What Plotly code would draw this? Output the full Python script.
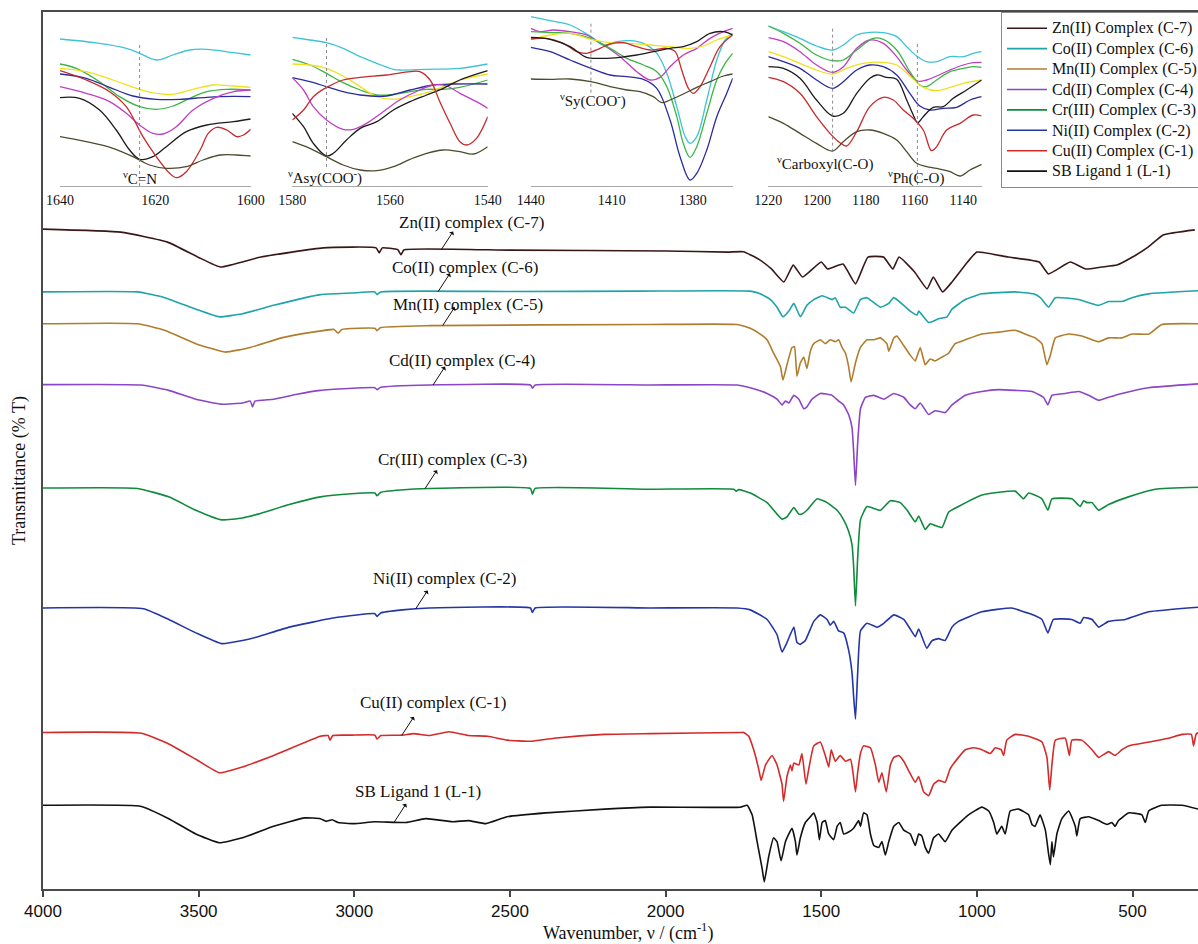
import numpy as np
import plotly.graph_objects as go

# ---------------- main spectra (wavenumber, transmittance a.u., offset-stacked) -------------
zn_wn = [4000, 3750, 3600, 3500, 3430, 3300, 3100, 2930, 2920, 2910, 2860, 2850, 2840, 2500, 2000, 1800, 1750, 1700, 1660, 1620,
         1590, 1560, 1500, 1480, 1430, 1390, 1350, 1300, 1270, 1250, 1200, 1160, 1140, 1110, 1080, 1030, 1000, 900, 800, 770,
         700, 650, 600, 550, 500, 450, 400, 300]
zn_t = [175.9, 175.1, 172.5, 168.5, 166.0, 168.6, 171.0, 171.0, 169.7, 171.0, 170.5, 169.2, 170.5, 170.4, 170.2, 169.9, 170.0, 168.0, 165.5, 162.1,
        166.5, 163.4, 167.3, 165.5, 166.8, 161.6, 168.6, 168.6, 165.5, 168.6, 164.7, 160.3, 163.4, 159.5, 162.1, 167.3, 169.9, 168.6, 167.3, 164.2,
        167.3, 165.5, 166.0, 166.5, 168.6, 171.2, 174.4, 175.7]

co_wn = [4000, 3696, 3609, 3509, 3434, 3359, 3259, 3109, 3009, 2934, 2927, 2915, 2500, 2081, 1728, 1696, 1663, 1642, 1623, 1604,
         1588, 1567, 1546, 1524, 1497, 1465, 1455, 1439, 1422, 1396, 1374, 1353, 1310, 1283, 1267, 1235, 1214, 1192, 1187, 1155,
         1123, 1096, 1080, 1037, 984, 877, 818, 796, 770, 748, 673, 609, 577, 534, 502, 448, 289]
co_t = [159.5, 159.5, 158.0, 155.0, 153.0, 153.8, 156.0, 158.8, 159.2, 159.5, 158.8, 159.5, 159.6, 159.7, 159.7, 159.0, 157.5, 155.5, 153.0, 154.5,
        156.5, 153.0, 156.0, 157.5, 158.5, 157.5, 158.0, 155.5, 155.5, 154.0, 157.5, 158.0, 155.5, 156.5, 158.0, 156.0, 154.5, 153.5, 154.5, 151.5,
        152.5, 153.0, 155.0, 157.5, 159.0, 159.5, 159.0, 158.0, 155.5, 158.0, 157.5, 156.0, 157.0, 157.0, 158.0, 159.0, 159.8]

mn_wn = [4000, 3696, 3609, 3509, 3415, 3334, 3234, 3134, 3065, 3052, 3040, 2934, 2927, 2915, 2759, 2049, 1770, 1728, 1696, 1674,
         1653, 1631, 1623, 1610, 1594, 1586, 1578, 1567, 1556, 1546, 1535, 1524, 1503, 1487, 1471, 1455, 1444, 1433, 1422, 1412,
         1404, 1390, 1374, 1353, 1331, 1310, 1289, 1283, 1267, 1257, 1235, 1214, 1198, 1182, 1166, 1150, 1134, 1112, 1091, 1070,
         1037, 984, 930, 877, 845, 813, 791, 775, 764, 748, 705, 663, 630, 609, 577, 534, 502, 448, 406, 289]
mn_t = [151.2, 151.2, 149.5, 146.0, 143.8, 145.0, 147.5, 149.0, 149.7, 148.7, 149.7, 150.0, 149.4, 150.2, 150.7, 151.0, 151.0, 150.0, 148.5, 147.0,
        143.5, 140.0, 136.5, 140.5, 145.0, 145.2, 137.5, 141.0, 142.5, 139.5, 144.0, 146.0, 147.0, 146.0, 147.0, 146.5, 147.0, 145.0, 143.5, 140.0,
        136.0, 141.0, 145.0, 147.0, 147.0, 147.5, 146.0, 144.0, 147.5, 148.0, 145.5, 143.0, 141.5, 145.0, 140.5, 142.0, 141.5, 142.5, 143.5, 146.0,
        147.0, 148.5, 149.0, 149.5, 148.5, 147.5, 146.0, 140.5, 143.0, 147.5, 148.5, 148.0, 147.0, 146.5, 147.5, 147.5, 148.5, 148.5, 151.0, 151.2]

cd_wn = [4000, 3684, 3596, 3509, 3427, 3359, 3334, 3327, 3319, 3259, 3184, 3109, 2934, 2927, 2915, 2759, 2434, 2428, 2419, 2049,
         1770, 1728, 1674, 1642, 1626, 1615, 1604, 1588, 1572, 1556, 1546, 1530, 1503, 1465, 1444, 1428, 1412, 1401, 1396, 1390,
         1383, 1374, 1358, 1331, 1299, 1267, 1235, 1214, 1198, 1182, 1155, 1134, 1102, 1080, 1037, 984, 930, 877, 823, 786,
         772, 759, 716, 673, 641, 609, 577, 534, 448, 289]
cd_t = [135.3, 135.2, 133.8, 131.5, 130.2, 130.5, 131.0, 129.5, 131.0, 131.5, 132.8, 133.8, 134.5, 134.0, 134.6, 135.2, 135.2, 134.4, 135.2, 135.2,
        135.2, 134.5, 133.0, 131.5, 130.0, 131.0, 130.5, 132.5, 131.5, 129.0, 129.5, 131.5, 133.0, 132.5, 131.0, 130.0, 127.5, 124.0, 118.0, 109.0,
        120.0, 129.0, 132.0, 132.5, 131.5, 133.0, 132.0, 130.0, 129.0, 130.5, 127.5, 128.5, 128.0, 130.0, 132.5, 133.5, 134.0, 133.8, 133.5, 132.0,
        130.0, 132.5, 133.0, 133.5, 132.5, 131.2, 132.0, 133.0, 134.5, 135.5]

cr_wn = [4000, 3696, 3596, 3509, 3427, 3359, 3309, 3209, 3109, 3009, 2934, 2927, 2915, 2852, 2759, 2434, 2428, 2419, 2049, 1781,
         1773, 1765, 1728, 1674, 1642, 1626, 1610, 1588, 1572, 1562, 1546, 1513, 1481, 1449, 1428, 1412, 1401, 1396, 1390, 1383,
         1374, 1353, 1310, 1278, 1246, 1224, 1198, 1187, 1166, 1150, 1134, 1112, 1091, 1059, 984, 877, 850, 834, 791, 772,
         759, 695, 668, 657, 647, 630, 609, 577, 513, 427, 289]
cr_t = [108.3, 108.2, 106.0, 102.5, 100.0, 100.5, 101.5, 104.0, 106.0, 106.8, 107.0, 106.3, 107.2, 107.8, 108.2, 108.2, 106.7, 108.2, 108.0, 108.0,
        107.5, 107.9, 107.0, 104.5, 101.5, 100.2, 100.8, 103.2, 101.5, 101.5, 102.5, 105.5, 104.5, 102.5, 100.0, 97.0, 93.5, 88.0, 77.5, 90.0,
        100.0, 103.5, 102.5, 105.0, 104.5, 102.5, 99.5, 101.0, 97.5, 99.0, 98.5, 98.0, 102.0, 103.5, 106.5, 107.5, 105.5, 107.0, 105.5, 102.5,
        105.5, 105.5, 103.5, 105.0, 104.5, 104.5, 102.5, 104.0, 106.0, 108.0, 108.5]

ni_wn = [4000, 3677, 3596, 3509, 3427, 3359, 3309, 3209, 3059, 2934, 2927, 2915, 2846, 2759, 2434, 2428, 2419, 2049, 1770, 1728,
         1674, 1642, 1626, 1610, 1588, 1578, 1567, 1551, 1524, 1503, 1481, 1471, 1460, 1444, 1428, 1412, 1401, 1396, 1390, 1383,
         1374, 1353, 1321, 1299, 1267, 1235, 1214, 1198, 1187, 1161, 1144, 1123, 1102, 1080, 1059, 984, 888, 850, 829, 791,
         772, 754, 695, 668, 657, 630, 609, 577, 523, 448, 289]
ni_t = [77.0, 76.8, 74.0, 70.5, 67.7, 68.5, 69.5, 72.0, 74.5, 75.5, 74.8, 75.7, 76.5, 77.0, 77.0, 75.8, 77.0, 77.0, 77.0, 76.5,
        74.0, 70.0, 65.5, 68.0, 72.0, 68.0, 67.5, 68.5, 73.5, 75.2, 74.0, 72.5, 73.5, 71.0, 70.5, 66.0, 60.0, 54.0, 48.0, 60.0,
        71.0, 73.0, 72.0, 73.0, 75.2, 74.0, 71.5, 69.5, 71.5, 66.5, 68.5, 69.0, 68.5, 72.0, 73.5, 76.0, 77.0, 76.0, 75.5, 74.0,
        70.5, 74.0, 74.0, 73.0, 74.5, 74.0, 72.0, 73.5, 74.0, 76.0, 77.2]

cu_wn = [4000, 3684, 3596, 3509, 3434, 3359, 3259, 3109, 3084, 3078, 3069, 3009, 2934, 2927, 2915, 2846, 2809, 2759, 2696, 2634,
         2571, 2509, 2434, 2359, 2196, 2049, 1760, 1749, 1733, 1717, 1701, 1693, 1679, 1658, 1642, 1626, 1621, 1610, 1599, 1594,
         1588, 1572, 1562, 1549, 1540, 1524, 1503, 1487, 1476, 1468, 1455, 1439, 1422, 1406, 1398, 1390, 1383, 1374, 1364, 1342,
         1326, 1315, 1305, 1291, 1278, 1267, 1251, 1235, 1219, 1198, 1187, 1171, 1155, 1139, 1123, 1102, 1086, 1059, 1037, 1011,
         984, 957, 941, 922, 914, 904, 877, 834, 791, 775, 766, 759, 748, 716, 703, 695, 663, 630, 609, 577,
         556, 534, 513, 448, 384, 341, 311, 304, 296, 289]
cu_t = [44.5, 44.3, 41.5, 37.5, 34.0, 35.5, 38.5, 43.5, 43.7, 42.5, 43.7, 43.8, 43.8, 42.8, 43.7, 43.8, 44.2, 43.7, 44.7, 43.7,
        43.5, 42.5, 42.2, 43.0, 44.0, 44.2, 44.5, 44.5, 43.5, 40.0, 35.0, 32.0, 36.0, 38.5, 36.0, 31.0, 26.5, 33.0, 36.0, 34.5,
        36.5, 36.0, 39.0, 31.0, 35.0, 41.0, 42.0, 38.5, 35.5, 40.0, 37.0, 38.5, 37.0, 37.5, 34.0, 29.0, 34.0, 39.0, 41.0, 40.5,
        36.0, 31.5, 34.0, 29.0, 36.0, 38.0, 38.5, 37.0, 34.5, 31.5, 33.0, 29.0, 28.0, 31.0, 32.0, 31.5, 35.0, 38.0, 40.0, 40.5,
        40.0, 39.0, 40.5, 40.0, 38.5, 42.5, 44.0, 43.5, 42.0, 38.0, 29.5, 36.0, 42.5, 43.0, 38.5, 42.5, 42.5, 40.0, 38.0, 39.5,
        38.5, 40.0, 41.0, 42.0, 43.0, 44.0, 44.0, 41.0, 44.0, 44.5]

sb_wn = [4000, 3684, 3596, 3509, 3434, 3359, 3259, 3159, 3109, 3090, 3071, 3052, 3002, 2934, 2834, 2771, 2684, 2634, 2577, 2509,
         2384, 2196, 2049, 1760, 1738, 1722, 1706, 1690, 1683, 1669, 1653, 1642, 1629, 1615, 1594, 1583, 1578, 1567, 1551, 1535,
         1524, 1513, 1506, 1497, 1487, 1476, 1460, 1449, 1439, 1428, 1412, 1396, 1380, 1374, 1364, 1353, 1342, 1331, 1315, 1305,
         1294, 1283, 1267, 1251, 1235, 1214, 1198, 1187, 1177, 1166, 1155, 1139, 1123, 1102, 1080, 1048, 1027, 984, 962, 946,
         936, 920, 909, 893, 866, 834, 823, 813, 797, 780, 770, 764, 759, 754, 743, 727, 705, 684, 679, 668,
         641, 609, 582, 566, 556, 545, 513, 470, 459, 448, 406, 341, 289]
sb_t = [25.5, 25.2, 22.0, 18.0, 15.7, 17.0, 20.0, 22.2, 22.0, 21.3, 21.7, 21.0, 20.7, 21.2, 21.0, 22.0, 21.2, 21.5, 20.7, 22.5,
        23.5, 24.5, 25.0, 25.0, 25.5, 23.0, 16.0, 9.0, 5.5, 12.0, 17.0, 16.0, 11.0, 16.0, 19.5, 16.0, 12.5, 17.0, 21.0, 22.5,
        23.5, 21.0, 16.5, 21.0, 21.5, 18.0, 16.5, 20.0, 21.0, 18.0, 18.5, 19.5, 21.5, 20.0, 23.5, 23.0, 18.0, 15.0, 14.5, 16.0,
        12.5, 16.0, 20.0, 21.0, 19.0, 18.0, 15.0, 18.0, 17.5, 14.5, 13.0, 17.0, 18.0, 16.0, 19.0, 21.5, 23.0, 25.0, 24.0, 21.0,
        18.0, 20.0, 18.0, 24.0, 24.5, 23.0, 20.5, 20.0, 23.0, 19.0, 13.0, 10.0, 16.0, 12.0, 18.0, 22.0, 24.0, 20.0, 17.5, 22.0,
        22.5, 21.5, 20.5, 21.0, 20.0, 21.5, 23.5, 23.0, 21.0, 24.0, 25.5, 25.5, 24.5]

series_names = ["Zn(II) Complex (C-7)", "Co(II) Complex (C-6)", "Mn(II) Complex (C-5)", "Cd(II) Complex (C-4)",
                "Cr(III) Complex (C-3)", "Ni(II) Complex (C-2)", "Cu(II) Complex (C-1)", "SB Ligand 1 (L-1)"]
curve_labels = ["Zn(II) complex (C-7)", "Co(II) complex (C-6)", "Mn(II) complex (C-5)", "Cd(II) complex (C-4)",
                "Cr(III) complex (C-3)", "Ni(II) complex (C-2)", "Cu(II) complex (C-1)", "SB Ligand 1 (L-1)"]
series_colors = ["#3a1717", "#1ea3a8", "#b07d2c", "#8c45c4", "#108a3c", "#2436a6", "#d42a2a", "#111111"]

# label placement: arrow tail wavenumber on curve, label text position (wavenumber, level)
label_tail_wn = [2721, 2731, 2716, 2747, 2773, 2803, 2847, 2872]
label_text_wn = [2625, 2644, 2635, 2654, 2684, 2710, 2747, 2795]
label_text_t = [177.7, 165.9, 156.2, 141.7, 115.7, 84.6, 52.2, 29.0]

# ---------------- inset data (zoomed regions, relative transmittance) ----------------
i1_cyan_wn = [1640, 1631.7, 1626.1, 1623.3, 1619.8, 1616.3, 1612.8, 1609.2, 1603.6, 1600]
i1_cyan_t = [96.6, 94.0, 91.0, 88.0, 84.0, 87.0, 90.0, 90.4, 88.4, 87.0]
i1_green_wn = [1640, 1636.6, 1631.7, 1627.5, 1623.3, 1619.8, 1616.3, 1612.8, 1609.2, 1605, 1600]
i1_green_t = [81.6, 79, 71, 62, 56, 54.4, 56.4, 61, 65, 66.4, 66]
i1_yellow_wn = [1640, 1634.5, 1628.9, 1623.3, 1619.8, 1616.3, 1612.1, 1607.8, 1603.6, 1600]
i1_yellow_t = [79, 77, 72, 66.4, 64, 63.4, 66.4, 69, 68.4, 67.6]
i1_blue_wn = [1640, 1634.5, 1629.6, 1624.7, 1619.8, 1614.9, 1609.2, 1603.6, 1600]
i1_blue_t = [75.6, 73, 67.6, 62.4, 60.4, 60.4, 61.6, 62.2, 62]
i1_magenta_wn = [1640, 1634.5, 1629.6, 1626.1, 1623.3, 1620.5, 1618.4, 1615.6, 1612.1, 1607.8, 1603.6, 1600]
i1_magenta_t = [68, 64, 59, 52, 45, 40, 39.6, 44, 54, 61, 65, 66]
i1_black_wn = [1640, 1635.9, 1631.7, 1628.2, 1625.4, 1623.3, 1620.5, 1617.7, 1613.5, 1609.2, 1603.6, 1600]
i1_black_t = [61.4, 61, 54, 42, 30, 24.4, 26, 32, 41, 45, 47, 48.6]
i1_red_wn = [1640, 1634.5, 1629.6, 1626.1, 1622.6, 1619.8, 1617, 1615.6, 1613.5, 1610.6, 1608.9, 1607.1, 1605, 1602.9, 1601.5, 1600]
i1_red_t = [77.6, 72, 65, 56, 38, 26, 16, 13.4, 17, 30, 40, 43.6, 42, 38, 39, 42.4]
i1_olive_wn = [1640, 1634.5, 1628.9, 1624.7, 1621.2, 1617.7, 1613.5, 1610, 1606.4, 1602.9, 1600]
i1_olive_t = [38, 35, 31, 26, 21, 19, 20, 24, 27, 27, 26.4]

i2_cyan_wn = [1580, 1576.4, 1573, 1569.6, 1566.1, 1562.7, 1559.3, 1558, 1552.5, 1545.7, 1540]
i2_cyan_t = [97.6, 96, 94.4, 91, 86, 82, 78.4, 78, 78.4, 79, 81.6]
i2_green_wn = [1580, 1576.4, 1573, 1569.6, 1566.1, 1562.7, 1559.3, 1555.9, 1552.5, 1549.1, 1545.7, 1540]
i2_green_t = [84.4, 81, 76, 70.4, 66, 63, 63.4, 65, 66.4, 66.4, 67.6, 72]
i2_yellow_wn = [1580, 1576.4, 1573, 1569.6, 1566.1, 1562.7, 1559.3, 1555.9, 1552.5, 1549.1, 1545.7, 1540]
i2_yellow_t = [81.6, 81, 79, 74.4, 68, 62, 60.4, 62, 64.4, 68, 72, 75.6]
i2_blue_wn = [1580, 1576.4, 1573, 1569.6, 1566.1, 1560.7, 1555.9, 1551.1, 1547, 1540]
i2_blue_t = [73.4, 71, 68, 65, 63, 62.4, 66, 69, 69.6, 69.6]
i2_magenta_wn = [1580, 1577.7, 1575.7, 1573, 1569.6, 1567.5, 1564.8, 1561.4, 1558, 1553.9, 1551.1, 1548.4, 1545.7, 1542.3, 1540]
i2_magenta_t = [73.4, 66, 56, 48, 42.4, 42.4, 46, 53, 60, 66, 69, 68.4, 64, 59, 55]
i2_black_wn = [1580, 1577.7, 1575.7, 1573, 1571.6, 1568.9, 1566.1, 1562.7, 1559.3, 1555.9, 1552.5, 1549.1, 1545.7, 1540]
i2_black_t = [52, 44, 34, 26.4, 28, 36, 43, 47, 54, 59, 63, 67, 72, 77.6]
i2_red_wn = [1580, 1577.7, 1575.7, 1573, 1569.6, 1566.1, 1560.7, 1555.9, 1553.9, 1551.8, 1549.8, 1547.7, 1545.7, 1544.3, 1542.3, 1540]
i2_red_t = [48, 54, 62, 67.6, 72, 73.6, 75, 77, 77, 72, 59, 46, 35, 33, 37, 50]
i2_olive_wn = [1580, 1576.4, 1573, 1569.6, 1566.1, 1562.7, 1559.3, 1555.9, 1552.5, 1549.1, 1545.7, 1542.9, 1540]
i2_olive_t = [35, 31, 26, 21, 18, 17.6, 20, 24.4, 28, 30, 29, 27.6, 32]

i3_cyan_wn = [1440, 1432.8, 1425.4, 1417.7, 1413.1, 1408.1, 1403.2, 1398.3, 1393.3, 1389.6, 1385.9, 1382.8, 1381, 1378.5, 1374.8, 1371.1, 1368, 1365.2]
i3_cyan_t = [110, 107.6, 105, 98, 93, 95, 95.6, 94, 88, 76, 56, 38, 34, 38, 60, 84, 96, 100]
i3_magenta_wn = [1440, 1436.5, 1431.6, 1425.4, 1419.3, 1413.1, 1406.9, 1400.7, 1395.8, 1392.1, 1388.4, 1383.5, 1378.5, 1373.6, 1368.6, 1365.2]
i3_magenta_t = [103, 101, 102, 101, 99, 93, 86, 77, 72, 73.6, 80, 87, 91, 97, 101, 103]
i3_green_wn = [1440, 1432.8, 1425.4, 1417.7, 1410.6, 1404.4, 1398.3, 1393.3, 1389.6, 1385.9, 1383.5, 1381, 1378.5, 1374.8, 1371.1, 1368, 1365.2]
i3_green_t = [101, 100.4, 100, 97, 91, 85, 81, 77, 68, 50, 34, 25.6, 32, 52, 72, 82, 88]
i3_yellow_wn = [1440, 1432.8, 1425.4, 1417.7, 1410.6, 1403.2, 1395.8, 1388.4, 1381, 1376, 1371.1, 1365.2]
i3_yellow_t = [96, 99, 100, 96.4, 94.4, 94, 93, 92, 91, 92.4, 96, 99]
i3_red_wn = [1440, 1434.1, 1427.9, 1423, 1419.3, 1414.3, 1410.6, 1405.7, 1400.7, 1395.8, 1389.6, 1386.5, 1384.1, 1381.6, 1379.8, 1377.3, 1373.6, 1369.9, 1365.2]
i3_red_t = [96.6, 97, 94, 89, 88, 91, 93.6, 94.4, 92, 90, 91, 89, 78, 67, 64, 68, 80, 92, 99]
i3_black_wn = [1440, 1432.8, 1425.4, 1419.3, 1413.1, 1406.9, 1400.7, 1394.6, 1388.4, 1383.5, 1378.5, 1373.6, 1368.6, 1365.2]
i3_black_t = [97.6, 96.4, 92, 85.6, 85, 85.6, 87, 89, 91, 92, 95, 100, 101, 99]
i3_blue_wn = [1440, 1432.8, 1425.4, 1417.7, 1410.6, 1404.4, 1398.3, 1393.3, 1388.4, 1384.7, 1381, 1378.5, 1374.8, 1371.1, 1367.4, 1365.2]
i3_blue_t = [91.6, 89, 84, 79, 75, 74, 72.4, 67, 48, 26, 12, 16, 30, 50, 64, 73]
i3_olive_wn = [1440, 1432.8, 1425.4, 1417.7, 1410.6, 1404.4, 1399.5, 1394.6, 1391.5, 1388.4, 1383.5, 1378.5, 1373.6, 1368.6, 1365.2]
i3_olive_t = [72.6, 72.4, 72.6, 71, 68, 66, 65, 62, 58.4, 60, 63.6, 67.6, 71, 74.4, 75.6]

i4_cyan_wn = [1220, 1213.8, 1207, 1200.2, 1193.6, 1189.2, 1183.7, 1178.3, 1172.8, 1167.3, 1163.2, 1159.1, 1155, 1150.9, 1145.4, 1140, 1135.9, 1132.4]
i4_cyan_t = [104.4, 101, 97, 92.4, 90, 93, 99, 100.6, 100.4, 98, 92, 86.4, 83, 83, 86, 86, 88, 89]
i4_magenta_wn = [1220, 1213.8, 1207, 1200.2, 1193.6, 1189.2, 1183.7, 1178.3, 1172.8, 1167.3, 1163.2, 1158.7, 1155, 1150.9, 1145.4, 1140, 1135.9, 1132.4]
i4_magenta_t = [97.4, 95, 89, 81, 76.6, 80, 91, 96, 94, 86, 78, 71.4, 72, 74.4, 78, 81, 82.4, 82.6]
i4_green_wn = [1220, 1213.8, 1207, 1200.2, 1193.6, 1189.2, 1183.7, 1176.9, 1172.8, 1167.3, 1161.9, 1157.8, 1155, 1150.9, 1145.4, 1140, 1135.9, 1132.4]
i4_green_t = [104.4, 100, 94, 87, 83.6, 84, 90, 97, 96.4, 90, 77, 69, 68, 72, 77, 79, 80, 79.6]
i4_yellow_wn = [1220, 1213.8, 1207, 1200.2, 1193.6, 1187.9, 1181, 1172.8, 1167.3, 1161.9, 1156.4, 1150.9, 1145.4, 1140, 1132.4]
i4_yellow_t = [89, 86, 82, 78, 75.6, 79, 82, 82.6, 81, 74.4, 67.6, 65.6, 67.6, 70, 72]
i4_blue_wn = [1220, 1213.8, 1207, 1200.2, 1193.6, 1189.2, 1183.7, 1178.3, 1172.8, 1167.3, 1161.9, 1157.8, 1153.7, 1148.2, 1142.7, 1137.2, 1132.4]
i4_blue_t = [86, 83, 79, 72, 67, 71, 78, 81, 80, 75, 64, 56.4, 54, 55, 55.6, 60, 62]
i4_black_wn = [1220, 1213.8, 1207, 1200.2, 1193.6, 1189.2, 1183.7, 1178.3, 1175.5, 1171.4, 1167.3, 1163.2, 1160.5, 1158.7, 1156.4, 1152.3, 1148.2, 1144.1, 1138.6, 1132.4]
i4_black_t = [80, 79, 73, 60, 50.4, 52, 64, 73, 75, 73.6, 72.4, 60, 51, 46.4, 50, 55.6, 56, 61, 66, 72]
i4_red_wn = [1220, 1213.8, 1207, 1200.2, 1194.7, 1190.6, 1187.9, 1183.7, 1178.3, 1172.8, 1168.7, 1164.6, 1160.5, 1156.4, 1153, 1150.9, 1146.8, 1141.3, 1135.9, 1132.4]
i4_red_t = [73.6, 71, 64, 50, 40, 34.4, 32.4, 41, 56, 61.6, 60, 54, 49, 42, 29.6, 32, 42, 46, 51, 50.4]
i4_olive_wn = [1220, 1213.8, 1207, 1200.2, 1193.6, 1189.2, 1183.7, 1178.3, 1172.8, 1167.3, 1163.2, 1159.1, 1155, 1150.9, 1145.4, 1141.3, 1137.2, 1132.4]
i4_olive_t = [50, 46, 40, 34, 29.4, 35, 41, 42, 40, 36, 29, 22, 20, 19, 17, 14.4, 18, 21.4]

inset_colors = {"cyan": "#3cc4d4", "green": "#3db543", "yellow": "#f0e11e", "blue": "#2b2b9e",
                "magenta": "#c03ec6", "black": "#1c1c1c", "red": "#c62a2c", "olive": "#4d4b2c"}

inset_ranges = [[1640, 1600], [1580, 1540], [1440, 1365.2], [1220, 1132.4]]
inset_tickvals = [[1640, 1620, 1600], [1580, 1560, 1540], [1440, 1410, 1380], [1220, 1200, 1180, 1160, 1140]]
inset_marker_wn = [[1623.3], [1573.0], [1417.7], [1193.6, 1158.8]]
inset_marker_lo = [[8.4], [19.8], [64.4], [29.0, 9.0]]
inset_marker_hi = [[94.8], [98.4], [107.6], [103.0, 95.4]]
inset_label_text = [["<sup>ν</sup>C=N"], ["<sup>ν</sup>Asy(COO<sup>-</sup>)"], ["<sup>ν</sup>Sy(COO<sup>-</sup>)"],
                    ["<sup>ν</sup>Carboxyl(C-O)", "<sup>ν</sup>Ph(C-O)"]]
inset_label_wn = [[1623.3], [1573.3], [1416.9], [1196.8, 1159.5]]
inset_label_t = [[13.2], [13.8], [60.0], [22.2, 13.8]]

SERIF = "Liberation Serif, Times New Roman, serif"
SANS = "Liberation Sans, Arial, sans-serif"

fig = go.Figure()

main_series = [(zn_wn, zn_t), (co_wn, co_t), (mn_wn, mn_t), (cd_wn, cd_t),
               (cr_wn, cr_t), (ni_wn, ni_t), (cu_wn, cu_t), (sb_wn, sb_t)]
for name, (wn, t), col in zip(series_names, main_series, series_colors):
    fig.add_trace(go.Scatter(x=wn, y=t, mode="lines",
                             name=f'<span style="font-size:16px">{name}</span>',
                             line=dict(color=col, width=1.6, shape="spline", smoothing=0.4)))

insets = [
    [("cyan", i1_cyan_wn, i1_cyan_t), ("green", i1_green_wn, i1_green_t), ("yellow", i1_yellow_wn, i1_yellow_t),
     ("blue", i1_blue_wn, i1_blue_t), ("magenta", i1_magenta_wn, i1_magenta_t), ("black", i1_black_wn, i1_black_t),
     ("red", i1_red_wn, i1_red_t), ("olive", i1_olive_wn, i1_olive_t)],
    [("cyan", i2_cyan_wn, i2_cyan_t), ("green", i2_green_wn, i2_green_t), ("yellow", i2_yellow_wn, i2_yellow_t),
     ("blue", i2_blue_wn, i2_blue_t), ("magenta", i2_magenta_wn, i2_magenta_t), ("black", i2_black_wn, i2_black_t),
     ("red", i2_red_wn, i2_red_t), ("olive", i2_olive_wn, i2_olive_t)],
    [("cyan", i3_cyan_wn, i3_cyan_t), ("magenta", i3_magenta_wn, i3_magenta_t), ("green", i3_green_wn, i3_green_t),
     ("yellow", i3_yellow_wn, i3_yellow_t), ("red", i3_red_wn, i3_red_t), ("black", i3_black_wn, i3_black_t),
     ("blue", i3_blue_wn, i3_blue_t), ("olive", i3_olive_wn, i3_olive_t)],
    [("cyan", i4_cyan_wn, i4_cyan_t), ("magenta", i4_magenta_wn, i4_magenta_t), ("green", i4_green_wn, i4_green_t),
     ("yellow", i4_yellow_wn, i4_yellow_t), ("blue", i4_blue_wn, i4_blue_t), ("black", i4_black_wn, i4_black_t),
     ("red", i4_red_wn, i4_red_t), ("olive", i4_olive_wn, i4_olive_t)],
]

# figure geometry (pixels)
W, H = 1198, 944
ML, MR, MT, MB = 43, 0, 12, 55
PW, PH = W - ML - MR, H - MT - MB


def px_x(p):
    return (p - ML) / PW


def px_y(p):
    return (H - MB - p) / PH


inset_px = [(60, 250.7), (292.3, 487.7), (530.7, 732.7), (768.3, 981.7)]
inset_y_dom = [px_y(186), px_y(14)]

for k, curves in enumerate(insets):
    ax_id = k + 2
    for cname, wn, t in curves:
        fig.add_trace(go.Scatter(x=wn, y=t, mode="lines", showlegend=False, hoverinfo="skip",
                                 line=dict(color=inset_colors[cname], width=1.3, shape="spline", smoothing=1.0),
                                 xaxis=f"x{ax_id}", yaxis=f"y{ax_id}"))
    for mw, lo, hi in zip(inset_marker_wn[k], inset_marker_lo[k], inset_marker_hi[k]):
        fig.add_trace(go.Scatter(x=[mw, mw], y=[lo, hi], mode="lines", showlegend=False, hoverinfo="skip",
                                 line=dict(color="#8a8a8a", width=1, dash="dot"),
                                 xaxis=f"x{ax_id}", yaxis=f"y{ax_id}"))
    x0, x1 = inset_px[k]
    fig.update_layout(**{
        f"xaxis{ax_id}": dict(domain=[px_x(x0), px_x(x1)], range=inset_ranges[k], anchor=f"y{ax_id}",
                              tickvals=inset_tickvals[k], ticks="", showline=True, linecolor="#a8a8a8", linewidth=1,
                              showgrid=False, zeroline=False, tickfont=dict(family=SERIF, size=14, color="#111"),
                              ticklabelstandoff=1),
        f"yaxis{ax_id}": dict(domain=inset_y_dom, range=[8.4, 111.6], anchor=f"x{ax_id}", visible=False),
    })
    for txt, lw, lt in zip(inset_label_text[k], inset_label_wn[k], inset_label_t[k]):
        fig.add_annotation(x=lw, y=lt, xref=f"x{ax_id}", yref=f"y{ax_id}", text=txt, showarrow=False,
                           xanchor="center", yanchor="middle",
                           font=dict(family=SERIF, size=15, color="#111"))

# curve labels with arrows
for i, (wn, t) in enumerate(main_series):
    tail_y = float(np.interp(label_tail_wn[i], wn[::-1], t[::-1]))
    fig.add_annotation(x=label_text_wn[i], y=label_text_t[i], text=curve_labels[i], showarrow=False,
                       xanchor="center", yanchor="middle",
                       font=dict(family=SERIF, size=17, color="#111"))
    fig.add_annotation(x=label_tail_wn[i], y=tail_y, text="", showarrow=True, arrowside="start",
                       arrowhead=2, arrowsize=1, arrowwidth=1, arrowcolor="#111",
                       ax=13, ay=-20, axref="pixel", ayref="pixel", standoff=0, startstandoff=0)

fig.add_annotation(x=px_x(20), y=px_y(471), xref="paper", yref="paper", text="Transmittance (% T)",
                   textangle=-90, showarrow=False, xanchor="center", yanchor="middle",
                   font=dict(family=SERIF, size=18, color="#111"))
fig.add_annotation(x=px_x(628), y=px_y(932), xref="paper", yref="paper",
                   text="Wavenumber, ν / (cm<sup>-1</sup>)", showarrow=False, xanchor="center", yanchor="middle",
                   font=dict(family=SERIF, size=18, color="#111"))

fig.update_layout(
    width=W, height=H, margin=dict(l=ML, r=MR, t=MT, b=MB, autoexpand=False),
    paper_bgcolor="white", plot_bgcolor="white", template="none",
    xaxis=dict(range=[4000, 4000 - (W - ML - MR) * 3.2124], tickvals=[4000, 3500, 3000, 2500, 2000, 1500, 1000, 500],
               ticks="outside", ticklen=6, tickwidth=1.5, tickcolor="#444", showline=True, linewidth=2,
               linecolor="#4a4a4a", mirror=True, showgrid=False, zeroline=False,
               tickfont=dict(family=SANS, size=17, color="#111"), automargin=False),
    yaxis=dict(range=[3.64, 232.57], showticklabels=False, ticks="", showline=True, linewidth=2,
               linecolor="#4a4a4a", showgrid=False, zeroline=False, automargin=False),
    legend=dict(x=px_x(1001), y=1, xanchor="left", yanchor="top", bgcolor="white",
                bordercolor="#8a8a8a", borderwidth=1, font=dict(family=SERIF, size=13.4, color="#111"),
                tracegroupgap=0, itemwidth=40),
    showlegend=True,
)

fig.write_html("out.html")
